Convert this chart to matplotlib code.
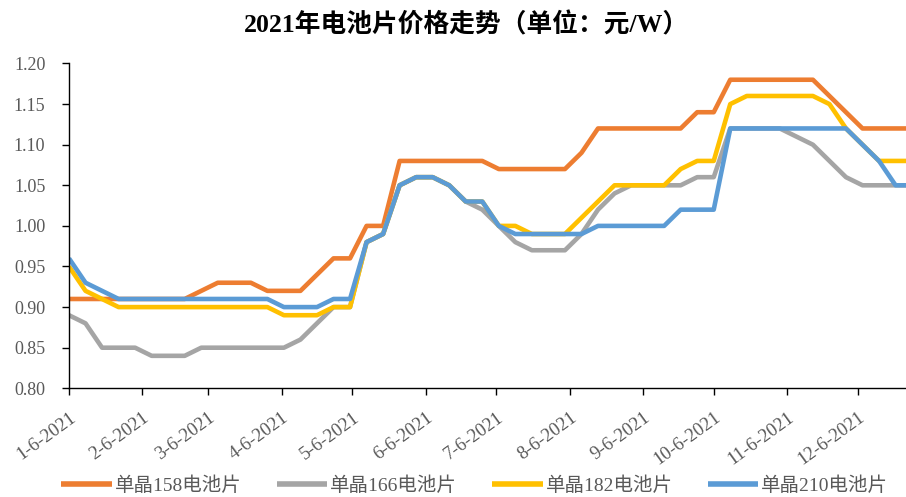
import matplotlib
matplotlib.use("Agg")
import matplotlib.pyplot as plt
import pandas as pd

# ---- data ----
start_date = "2021-01-06"
n_weeks = 52
tick_labels = ["1-6-2021", "2-6-2021", "3-6-2021", "4-6-2021", "5-6-2021", "6-6-2021",
               "7-6-2021", "8-6-2021", "9-6-2021", "10-6-2021", "11-6-2021", "12-6-2021"]
series_names = ["单晶158电池片", "单晶166电池片", "单晶182电池片", "单晶210电池片"]

mono158 = ([0.91] * 8 + [0.92] + [0.93] * 3 + [0.92] * 3 + [0.94] + [0.96] * 2 + [1.00] * 2
           + [1.08] * 6 + [1.07] * 5 + [1.09] + [1.12] * 6 + [1.14] * 2 + [1.18] * 6
           + [1.16] + [1.14] + [1.12] * 4)
mono166 = ([0.89, 0.88] + [0.85] * 3 + [0.84] * 3 + [0.85] * 6 + [0.86, 0.88] + [0.90] * 2
           + [0.98, 0.99, 1.05] + [1.06] * 2 + [1.05, 1.03, 1.02, 1.00, 0.98] + [0.97] * 3
           + [0.99, 1.02, 1.04] + [1.05] * 4 + [1.06] * 2 + [1.12] * 4
           + [1.11, 1.10, 1.08, 1.06] + [1.05] * 4)
mono182 = ([0.95, 0.92, 0.91] + [0.90] * 10 + [0.89] * 3 + [0.90] * 2
           + [0.98, 0.99, 1.05] + [1.06] * 2 + [1.05] + [1.03] * 2 + [1.00] * 2 + [0.99] * 3
           + [1.01, 1.03] + [1.05] * 4 + [1.07] + [1.08] * 2 + [1.15] + [1.16] * 5
           + [1.15, 1.12, 1.10] + [1.08] * 3)
mono210 = ([0.96, 0.93, 0.92] + [0.91] * 10 + [0.90] * 3 + [0.91] * 2
           + [0.98, 0.99, 1.05] + [1.06] * 2 + [1.05] + [1.03] * 2 + [1.00] + [0.99] * 5
           + [1.00] * 5 + [1.02] * 3 + [1.12] * 8 + [1.10, 1.08] + [1.05] * 2)

colors = ["#ED7D31", "#A5A5A5", "#FFC000", "#5B9BD5"]

dates = pd.date_range(start_date, periods=n_weeks, freq="7D")
tick_dates = pd.to_datetime(tick_labels, format="%m-%d-%Y")

plt.rcParams['font.family'] = ['Liberation Serif', 'Noto Sans CJK SC']

fig = plt.figure(figsize=(9.06, 4.97), dpi=100)
ax = fig.add_axes([69 / 906, 1 - 388.3 / 497, 1 - 69 / 906, (388.3 - 63.5) / 497])

for vals, name, c in zip([mono158, mono166, mono182, mono210], series_names, colors):
    ax.plot(dates, vals, color=c, lw=3.3, label=name,
            solid_joinstyle='round', solid_capstyle='butt')

ax.set_ylim(0.80, 1.20)
ax.set_yticks([0.80, 0.85, 0.90, 0.95, 1.00, 1.05, 1.10, 1.15, 1.20])
ax.set_yticklabels([f"{v:.2f}" for v in ax.get_yticks()])
ax.set_xlim(pd.Timestamp(start_date), pd.Timestamp("2021-12-26 10:00"))
ax.set_xticks(tick_dates)
ax.set_xticklabels(tick_labels, rotation=36, ha='right', rotation_mode='anchor')

for s in ['top', 'right']:
    ax.spines[s].set_visible(False)
for s in ['left', 'bottom']:
    ax.spines[s].set_color('black')
    ax.spines[s].set_linewidth(1.0)

ax.tick_params(axis='y', direction='out', length=5, width=1.0, color='black',
               labelsize=13, labelcolor='#595959', pad=12)
ax.tick_params(axis='x', direction='out', length=5, width=1.0, color='black',
               labelsize=13.5, labelcolor='#595959', pad=10)

fig.text(0.515, 1 - 25 / 497, "2021年电池片价格走势（单位：元/W）", ha='center', va='center',
         fontsize=18.5, fontweight='bold', color='black')

leg = fig.legend(loc='center', bbox_to_anchor=(0.524, 1 - 486 / 497), ncol=4, frameon=False,
                 fontsize=14, handlelength=2.6, handletextpad=0.15, columnspacing=1.8)
for t in leg.get_texts():
    t.set_color('#595959')
for h in leg.legend_handles:
    h.set_linewidth(4)

fig.savefig("out.png", dpi=100)
